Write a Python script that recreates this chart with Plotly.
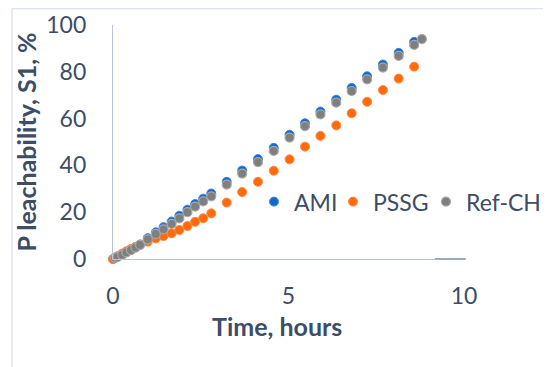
import plotly.graph_objects as go

# Time, hours (shared sampling for AMI and PSSG)
time_h = [0, 0.13, 0.26, 0.38, 0.51, 0.64, 0.77, 0.99, 1.22, 1.44, 1.67, 1.89, 2.12, 2.34,
          2.57, 2.80, 3.24, 3.68, 4.13, 4.58, 5.03, 5.47, 5.91, 6.36, 6.80, 7.24, 7.69,
          8.14, 8.58]
ami = [0, 1.0, 1.9, 2.9, 3.9, 5.0, 6.2, 8.9, 11.4, 13.6, 16.0, 18.5, 21.1, 23.5,
       25.8, 28.0, 33.0, 37.8, 42.7, 47.5, 53.1, 58.0, 63.0, 68.1, 73.1, 78.1, 83.1,
       88.1, 92.8]
pssg = [0, 1.2, 2.3, 3.3, 4.3, 5.2, 6.1, 7.4, 8.8, 9.8, 11.0, 12.4, 14.1, 15.9,
        17.4, 19.5, 24.1, 28.6, 33.0, 37.7, 42.6, 48.0, 52.6, 57.1, 62.3, 67.2, 72.2,
        77.1, 82.2]
# Ref-CH sampling
ref_time = [0.06, 0.13, 0.26, 0.38, 0.51, 0.64, 0.77, 0.99, 1.22, 1.44, 1.67, 1.89, 2.12,
            2.34, 2.57, 2.80, 3.24, 3.68, 4.13, 4.58, 5.03, 5.47, 5.91, 6.36, 6.80, 7.24,
            7.69, 8.14, 8.58, 8.80]
ref_ch = [0.5, 0.9, 1.8, 2.8, 3.8, 4.9, 6.0, 8.4, 10.7, 12.7, 15.0, 17.4, 20.0, 22.4,
          24.6, 26.8, 31.8, 36.5, 41.4, 46.2, 51.9, 56.8, 61.8, 66.8, 71.8, 76.8, 81.8,
          86.8, 91.5, 94.0]

x_ticks = [0, 5, 10]
y_ticks = [0, 20, 40, 60, 80, 100]
x_title = "Time, hours"
y_title = "P leachability, S1, %"

TXT = "#3c4d65"
FONT = "Lato"

fig = go.Figure()
fig.add_trace(go.Scatter(x=time_h, y=ami, mode="markers", name="AMI", legend="legend",
                         marker=dict(size=9, color="#1468cc", line=dict(color="#3f86dc", width=1)),
                         cliponaxis=False))
fig.add_trace(go.Scatter(x=time_h, y=pssg, mode="markers", name="PSSG", legend="legend2",
                         marker=dict(size=9, color="#ff6a0d", line=dict(color="#ff8a3d", width=1)),
                         cliponaxis=False))
fig.add_trace(go.Scatter(x=ref_time, y=ref_ch, mode="markers", name="Ref-CH", legend="legend3",
                         marker=dict(size=9, color="#7f7f7f", line=dict(color="#a8a8a8", width=1.2)),
                         cliponaxis=False))

leg_common = dict(orientation="h", y=0.245, xanchor="left", yanchor="middle",
                  font=dict(size=23, color=TXT, family=FONT), itemwidth=30,
                  bgcolor="rgba(0,0,0,0)", borderwidth=0)

# the page body adds an 8px offset, so the figure is 8px smaller than the window
fig.update_layout(
    width=543, height=359,
    margin=dict(l=105, r=87, t=17, b=108, autoexpand=False),
    paper_bgcolor="white", plot_bgcolor="white",
    font=dict(family=FONT, color=TXT, size=23),
    showlegend=True,
    legend=dict(x=0.4017, **leg_common),
    legend2=dict(x=0.6268, **leg_common),
    legend3=dict(x=0.8917, **leg_common),
    xaxis=dict(range=[0, 10], tickvals=x_ticks, showgrid=False, zeroline=False,
               showline=True, linecolor="#b9c4d3", linewidth=1.3, ticks="",
               ticklabelstandoff=16, automargin=False,
               tickfont=dict(size=23, color=TXT)),
    yaxis=dict(range=[0, 100], tickvals=y_ticks, showgrid=False, zeroline=False,
               showline=True, linecolor="#b9c4d3", linewidth=1.3, ticks="",
               ticklabelstandoff=21, automargin=False,
               tickfont=dict(size=23, color=TXT),
               title=dict(text="<b>" + y_title + "</b>", font=dict(size=25, color=TXT), standoff=2)),
    annotations=[
        dict(text="<b>" + x_title + "</b>", xref="paper", yref="paper", x=0.467, y=-0.2863,
             xanchor="center", yanchor="middle", showarrow=False,
             font=dict(size=25, color=TXT, family=FONT)),
    ],
    shapes=[
        dict(type="line", xref="paper", yref="paper", x0=-0.2877, x1=-0.2877, y0=1.0697, y1=-0.5,
             line=dict(color="#dde3ea", width=1.3)),
        dict(type="line", xref="paper", yref="paper", x0=-0.2877, x1=1.3, y0=1.0697, y1=1.0697,
             line=dict(color="#dde3ea", width=1.3)),
        dict(type="line", xref="paper", yref="paper", x0=0.917, x1=1.005, y0=0, y1=0,
             line=dict(color="#9aabbf", width=2)),
    ],
)

fig.write_html("out.html")
